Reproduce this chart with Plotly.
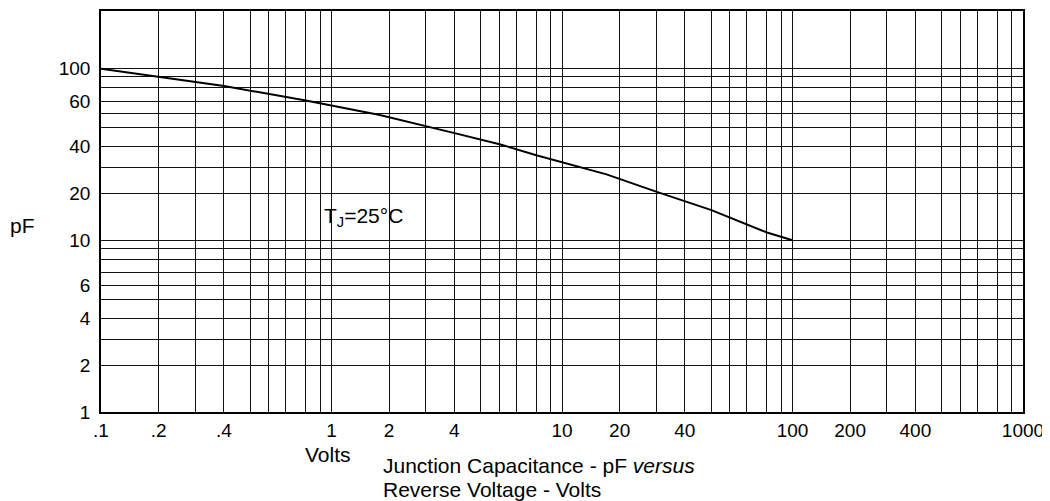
import plotly.graph_objects as go

# ---- data (log-log chart) ----
reverse_volts = [0.1, 0.178, 0.342, 0.774, 1.62, 3.42, 5.36, 7.74, 10.0, 11.9, 15.6, 25.6, 44.5, 77.5, 100.0]
capacitance_pf = [100, 89.9, 79.1, 65.3, 53.7, 42.1, 36.3, 31.3, 28.6, 26.7, 24.2, 19.2, 15.0, 11.1, 10.0]

x_tick_text = [".1", ".2", ".4", "1", "2", "4", "10", "20", "40", "100", "200", "400", "1000"]
y_tick_text = ["1", "2", "4", "6", "10", "20", "40", "60", "100"]

# ---- grid layout of the (scanned, slightly non-standard) log paper ----
X_GRID_FRAC = [0.25, 0.408, 0.533, 0.647, 0.727, 0.802, 0.889, 0.951]
Y_GRID_FRAC = [0.272, 0.425, 0.546, 0.658, 0.736, 0.81, 0.89, 0.954]

x_grid = []
for d in range(-1, 3):
    x_grid.append(10 ** d)
    x_grid += [10 ** (d + f) for f in X_GRID_FRAC]
x_grid.append(10 ** 3)

y_grid = []
for d in range(0, 2):
    y_grid.append(10 ** d)
    y_grid += [10 ** (d + f) for f in Y_GRID_FRAC]
y_grid.append(10 ** 2)

x_tick_vals = []
for d in range(-1, 3):
    x_tick_vals += [10 ** d, 10 ** (d + X_GRID_FRAC[0]), 10 ** (d + X_GRID_FRAC[2])]
x_tick_vals.append(10 ** 3)

y_tick_vals = [1, 10 ** Y_GRID_FRAC[0], 10 ** Y_GRID_FRAC[2], 10 ** Y_GRID_FRAC[4],
               10, 10 ** (1 + Y_GRID_FRAC[0]), 10 ** (1 + Y_GRID_FRAC[2]), 10 ** (1 + Y_GRID_FRAC[5]), 100]

FONT = "Liberation Sans, Arial, sans-serif"
GRID = "#111111"

fig = go.Figure()
fig.add_trace(go.Scatter(
    x=reverse_volts, y=capacitance_pf, mode="lines",
    line=dict(color="black", width=2), showlegend=False, hoverinfo="skip",
))

axis_common = dict(
    type="log", tickmode="array", showgrid=True, gridcolor=GRID, gridwidth=1,
    showline=True, mirror=True, linecolor="black", linewidth=1.5,
    ticks="", tickfont=dict(family=FONT, size=19, color="black"),
)

fig.update_xaxes(
    **axis_common, range=[-1, 3], tickvals=x_tick_vals, ticktext=x_tick_text,
    ticklabelstandoff=0,
    minor=dict(tickvals=x_grid, showgrid=True, gridcolor=GRID, gridwidth=1, ticks=""),
)
fig.update_yaxes(
    **axis_common, range=[0, 2.3356], tickvals=y_tick_vals, ticktext=y_tick_text,
    ticklabelstandoff=5,
    minor=dict(tickvals=y_grid, showgrid=True, gridcolor=GRID, gridwidth=1, ticks=""),
)

ann_font = dict(family=FONT, size=21, color="black")
annotations = [
    dict(text="pF", x=-0.0846, y=0.464, xref="paper", yref="paper",
         xanchor="center", yanchor="middle", showarrow=False, font=ann_font),
    dict(text="Volts", x=0.2467, y=-0.1058, xref="paper", yref="paper",
         xanchor="center", yanchor="middle", showarrow=False, font=ann_font),
    dict(text="Junction Capacitance - pF <i>versus</i>", x=0.3036, y=-0.1338,
         xref="paper", yref="paper", xanchor="left", yanchor="middle",
         showarrow=False, font=ann_font),
    dict(text="Reverse Voltage - Volts", x=0.3036, y=-0.1933,
         xref="paper", yref="paper", xanchor="left", yanchor="middle",
         showarrow=False, font=ann_font),
    dict(text="T<sub>J</sub>=25°C", x=0.2393, y=0.4864, xref="paper", yref="paper",
         xanchor="left", yanchor="middle", showarrow=False, font=ann_font),
]

# the page body adds an 8px offset, so margins are shifted to compensate
fig.update_layout(
    width=1050, height=501,
    margin=dict(l=93, r=35, t=1, b=97),
    paper_bgcolor="white", plot_bgcolor="white",
    annotations=annotations,
    font=dict(family=FONT, color="black"),
)

fig.write_html("out.html")
